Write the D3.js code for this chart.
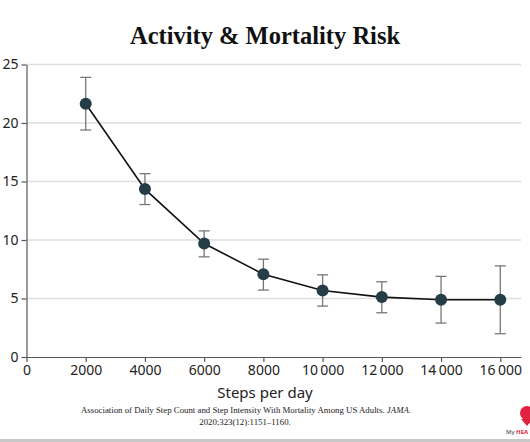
<!DOCTYPE html>
<html>
<head>
<meta charset="utf-8">
<script src="https://cdn.jsdelivr.net/npm/d3@7"></script>
<style>
  html, body { margin: 0; padding: 0; background: #fff; }
  svg { display: block; }
</style>
</head>
<body>
<svg id="chart" width="530" height="442"></svg>
<script>
// ---- data ----
const steps = [2000, 4000, 6000, 8000, 10000, 12000, 14000, 16000];
const risk  = [21.65, 14.35, 9.7, 7.08, 5.69, 5.12, 4.89, 4.89];
const upper = [23.9, 15.67, 10.78, 8.36, 7.02, 6.43, 6.89, 7.79];
const lower = [19.4, 13.03, 8.56, 5.72, 4.35, 3.78, 2.90, 1.99];
const xTicks = [0, 2000, 4000, 6000, 8000, 10000, 12000, 14000, 16000];
const yTicks = [0, 5, 10, 15, 20, 25];
const title = "Activity & Mortality Risk";
const xLabel = "Steps per day";
const citation1 = "Association of Daily Step Count and Step Intensity With Mortality Among US Adults. ";
const citationJournal = "JAMA";
const citation2 = "2020;323(12):1151\u20131160.";
const logoText = ["My ", "HEA"];

const svg = d3.select("#chart");
const mLeft = 26.5, mRight = 521, mTop = 64.5, mBottom = 357;

const x = d3.scaleLinear().domain([0, 16700]).range([mLeft, mRight]);
const y = d3.scaleLinear().domain([0, 25]).range([mBottom, mTop]);

const fmt = v => v >= 10000 ? d3.format("d")(Math.floor(v/1000)) + "\u2009" + d3.format("03d")(v % 1000) : String(v);

// title
svg.append("text").attr("x", 265).attr("y", 44).attr("text-anchor", "middle")
  .attr("font-family", "Liberation Serif, Times New Roman, serif").attr("font-weight", "bold")
  .attr("font-size", 24.5).attr("fill", "#111").text(title);

// gridlines
svg.append("g").selectAll("line").data(yTicks.filter(d => d > 0)).join("line")
  .attr("x1", mLeft).attr("x2", mRight).attr("y1", d => y(d)).attr("y2", d => y(d))
  .attr("stroke", "#dedede").attr("stroke-width", 1.5);

// axes
const fontFam = "Noto Sans, Open Sans, sans-serif";
const gx = svg.append("g").attr("transform", `translate(0,${mBottom})`)
  .call(d3.axisBottom(x).tickValues(xTicks).tickFormat(fmt).tickSizeInner(5).tickSizeOuter(0).tickPadding(3));
const gy = svg.append("g").attr("transform", `translate(${mLeft},0)`)
  .call(d3.axisLeft(y).tickValues(yTicks).tickSizeInner(5).tickSizeOuter(0).tickPadding(3));
[gx, gy].forEach(g => {
  g.select(".domain").attr("stroke", "#555").attr("stroke-width", 1.2);
  g.selectAll(".tick line").attr("stroke", "#555").attr("stroke-width", 1.2);
  g.selectAll(".tick text").attr("font-family", fontFam).attr("font-size", 14).attr("fill", "#222");
});

// x label
svg.append("text").attr("x", 265).attr("y", 398).attr("text-anchor", "middle")
  .attr("font-family", fontFam).attr("font-size", 15).attr("fill", "#222").text(xLabel);

// error bars
const eb = svg.append("g");
steps.forEach((s, i) => {
  const cx = x(s), w = 5.5;
  eb.append("line").attr("x1", cx).attr("x2", cx).attr("y1", y(upper[i])).attr("y2", y(lower[i]))
    .attr("stroke", "#777").attr("stroke-width", 1.3);
  [upper[i], lower[i]].forEach(v => eb.append("line")
    .attr("x1", cx - w).attr("x2", cx + w).attr("y1", y(v)).attr("y2", y(v))
    .attr("stroke", "#777").attr("stroke-width", 1.3));
});

// line
svg.append("path").datum(steps.map((s, i) => [s, risk[i]]))
  .attr("d", d3.line().x(d => x(d[0])).y(d => y(d[1])))
  .attr("fill", "none").attr("stroke", "#111").attr("stroke-width", 1.6);

// points
svg.append("g").selectAll("circle").data(steps.map((s, i) => [s, risk[i]])).join("circle")
  .attr("cx", d => x(d[0])).attr("cy", d => y(d[1])).attr("r", 6)
  .attr("fill", "#253d47");

// citation
const serif = "Liberation Serif, Times New Roman, serif";
const cit = svg.append("text").attr("x", 246).attr("y", 413).attr("text-anchor", "middle")
  .attr("font-family", serif).attr("font-size", 8.8).attr("fill", "#222");
cit.append("tspan").text(citation1);
cit.append("tspan").attr("font-style", "italic").text(citationJournal);
cit.append("tspan").text(".");
svg.append("text").attr("x", 245).attr("y", 425).attr("text-anchor", "middle")
  .attr("font-family", serif).attr("font-size", 8.8).attr("fill", "#222")
  .text(citation2);

// bottom rule
svg.append("rect").attr("x", 0).attr("y", 439).attr("width", 530).attr("height", 3).attr("fill", "#c8c8c8");

// logo (partially cut off in the reference)
svg.append("circle").attr("cx", 527).attr("cy", 413).attr("r", 7).attr("fill", "#e0213f");
svg.append("path").attr("d", "M521,419 L527,426 L533,419 Z").attr("fill", "#e0213f");
const logo = svg.append("text").attr("x", 506).attr("y", 434)
  .attr("font-family", "Noto Sans, sans-serif").attr("font-size", 6).attr("fill", "#333");
logo.append("tspan").text(logoText[0]);
logo.append("tspan").attr("fill", "#e0213f").attr("font-weight", "bold").text(logoText[1]);
</script>
</body>
</html>
